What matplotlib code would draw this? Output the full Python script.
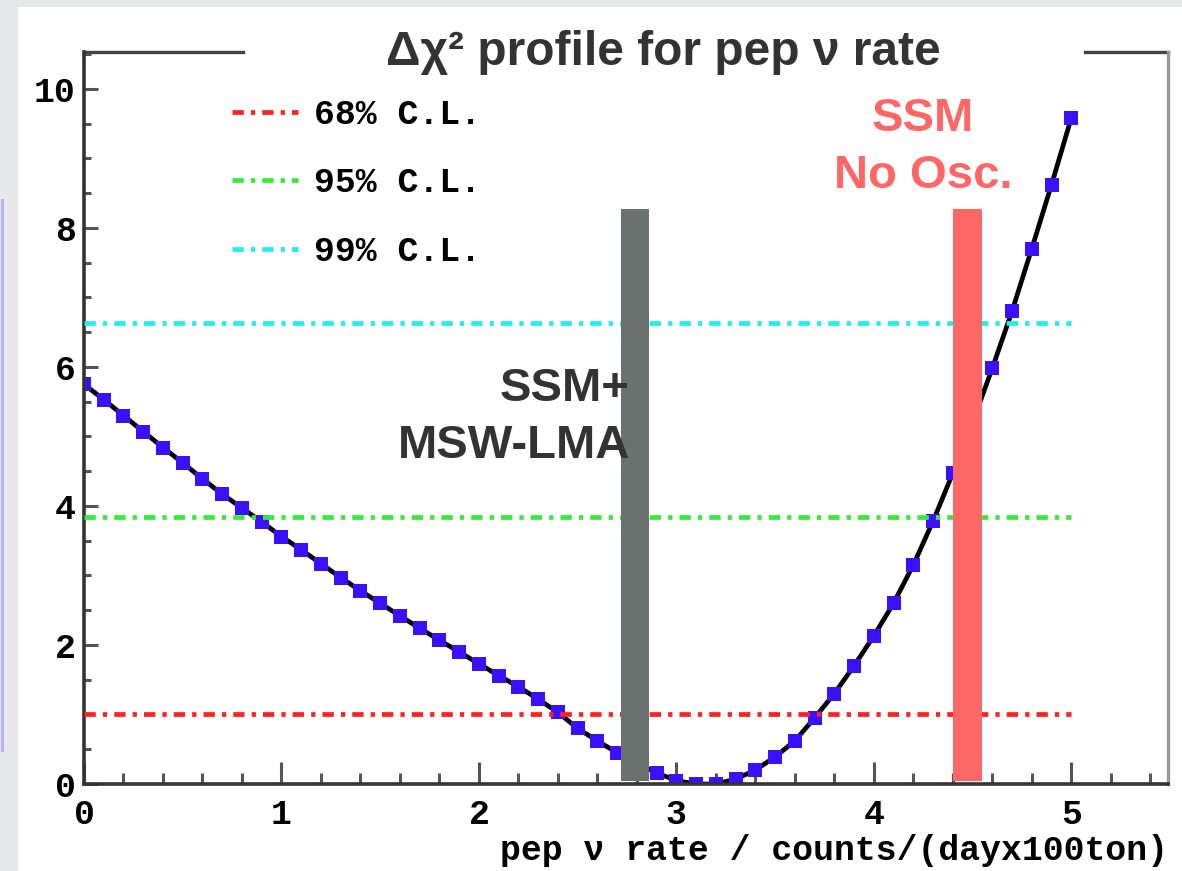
import matplotlib.pyplot as plt
from matplotlib.patches import Rectangle
from matplotlib.ticker import MultipleLocator

# pep rate scan points and Δχ² values
rate = [0.0, 0.1, 0.2, 0.3, 0.4, 0.5, 0.6, 0.7, 0.8, 0.9,
        1.0, 1.1, 1.2, 1.3, 1.4, 1.5, 1.6, 1.7, 1.8, 1.9,
        2.0, 2.1, 2.2, 2.3, 2.4, 2.5, 2.6, 2.7, 2.8, 2.9,
        3.0, 3.1, 3.2, 3.3, 3.4, 3.5, 3.6, 3.7, 3.8, 3.9,
        4.0, 4.1, 4.2, 4.3, 4.4, 4.5, 4.6, 4.7, 4.8, 4.9, 5.0]
dchi2 = [5.75, 5.53, 5.30, 5.07, 4.84, 4.62, 4.39, 4.17, 3.97, 3.77,
         3.56, 3.37, 3.17, 2.97, 2.78, 2.60, 2.42, 2.24, 2.07, 1.90,
         1.73, 1.56, 1.40, 1.22, 1.03, 0.80, 0.62, 0.45, 0.30, 0.16,
         0.05, 0.00, 0.00, 0.07, 0.20, 0.39, 0.62, 0.95, 1.30, 1.70,
         2.13, 2.60, 3.15, 3.78, 4.47, 5.20, 5.98, 6.80, 7.70, 8.62, 9.58]

# confidence level thresholds
cl_labels = ["68% C.L.", "95% C.L.", "99% C.L."]
cl_values = [1.0, 3.84, 6.63]
cl_colors = ["#ff2020", "#33ee33", "#22eeee"]

# model predictions (vertical bands)
lma_rate = 2.79
noosc_rate = 4.475
band_top = 8.27

mono = "Liberation Mono"
sans = "Liberation Sans"

fig = plt.figure(figsize=(11.82, 8.71), dpi=100, facecolor="#e7e8ec")
fig.patches.append(Rectangle((18 / 1182, 0), 1, 1 - 7 / 871, transform=fig.transFigure,
                             facecolor="white", edgecolor="none", zorder=-5))
# edge of the neighbouring slide
fig.lines.append(plt.Line2D([0.002, 0.002], [1 - 750 / 871, 1 - 200 / 871],
                            transform=fig.transFigure, color="#aab0ff", lw=2))
ax = fig.add_axes([84 / 1182, 1 - 784 / 871, (1168 - 84) / 1182, (784 - 52) / 871])
ax.set_zorder(2)
ax.patch.set_alpha(0)

# CL lines
for lab, val, col in zip(cl_labels, cl_values, cl_colors):
    ax.plot([rate[0], rate[-1]], [val, val], color=col, lw=3.4,
            linestyle=(0, (2.4, 1.5, 0.9, 1.5)), label=lab, zorder=3)

ax.plot(rate, dchi2, color="black", lw=3.4, zorder=2)
ax.plot(rate, dchi2, linestyle="none", marker="s", markersize=9.5,
        color="#3a10ff", markeredgewidth=0, zorder=2.5)

ax.bar([lma_rate], [band_top - 0.05], bottom=0.05, width=0.14, color="#6a716e", zorder=4)
ax.bar([noosc_rate], [band_top - 0.05], bottom=0.05, width=0.15, color="#ff6666", zorder=4)

ax.text(2.765, 5.27, "SSM+\nMSW-LMA", ha="right", va="center", multialignment="right",
        fontsize=34, fontweight="bold", family=sans, color="#333333", linespacing=1.38, zorder=5)
ax.text(4.25, 9.15, "SSM\nNo Osc.", ha="center", va="center", multialignment="center",
        fontsize=34, fontweight="bold", family=sans, color="#ff6666", linespacing=1.38, zorder=5)

ax.set_xlim(0, 5.49)
ax.set_ylim(0, 10.53)
ax.xaxis.set_major_locator(MultipleLocator(1))
ax.xaxis.set_minor_locator(MultipleLocator(0.2))
ax.yaxis.set_major_locator(MultipleLocator(2))
ax.yaxis.set_minor_locator(MultipleLocator(0.5))
ax.tick_params(which="both", direction="in", color="#555555", width=2.2,
               top=False, right=False)
ax.tick_params(axis="x", which="major", length=16, pad=10)
ax.tick_params(axis="x", which="minor", length=8)
ax.tick_params(axis="y", which="major", length=10, pad=6)
ax.tick_params(axis="y", which="minor", length=5)
for lab in ax.get_xticklabels() + ax.get_yticklabels():
    lab.set_fontfamily(mono)
    lab.set_fontweight("bold")
    lab.set_fontsize(25)

for side in ["left", "bottom"]:
    ax.spines[side].set_linewidth(2.6)
    ax.spines[side].set_color("#333333")
ax.spines["right"].set_linewidth(2.4)
ax.spines["right"].set_color("#999999")
ax.spines["top"].set_visible(False)
# top frame, broken by the title box
ax.plot([0, 0.147], [1, 1], transform=ax.transAxes, color="#444444", lw=2.4, clip_on=False)
ax.plot([0.923, 1], [1, 1], transform=ax.transAxes, color="#444444", lw=2.4, clip_on=False)

ax.set_xlabel("pep ν rate / counts/(dayx100ton)", fontsize=25, fontweight="bold",
              family=mono, loc="right", labelpad=2)

leg = ax.legend(loc="upper left", bbox_to_anchor=(0.108, 0.98), frameon=False,
                prop={"family": mono, "weight": "bold", "size": 25},
                handlelength=1.9, handletextpad=0.45, labelspacing=1.02)

fig.text(0.561, 0.940, "Δχ² profile for pep ν rate", ha="center", va="center",
         fontsize=34.5, fontweight="bold", family=sans, color="#333333")

fig.savefig("out.png", dpi=100, facecolor=fig.get_facecolor())
